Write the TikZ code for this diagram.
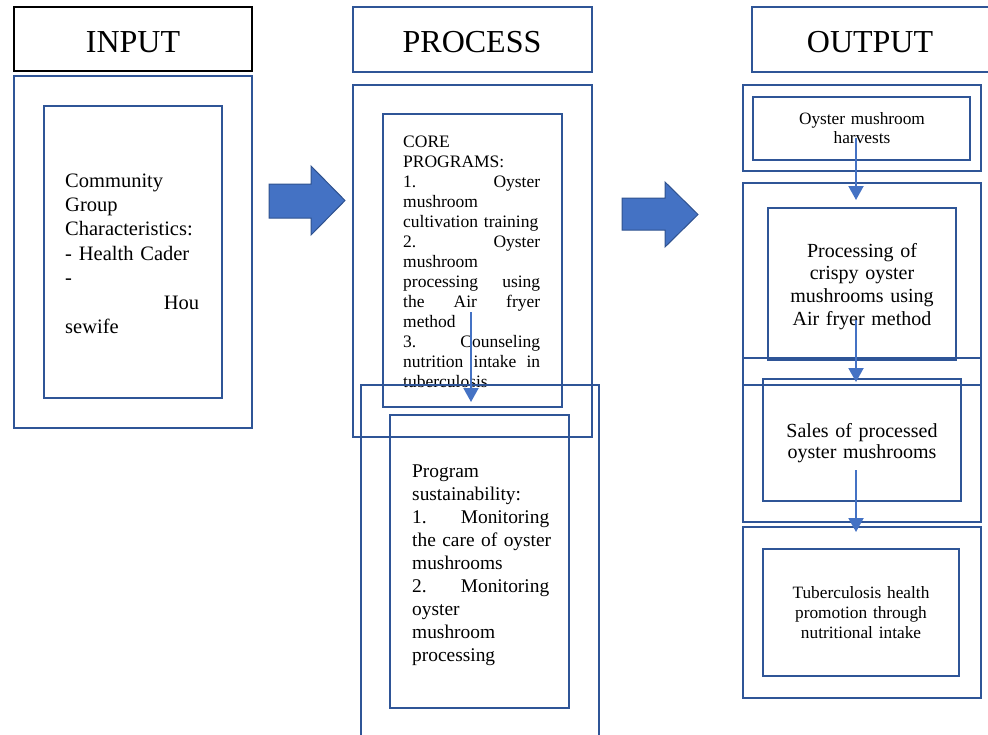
\documentclass[tikz,border=0pt]{standalone}
\usepackage{fontspec}
\setmainfont{Liberation Serif}
\usetikzlibrary{arrows.meta}
\hyphenpenalty=10000
\exhyphenpenalty=10000
\definecolor{boxblue}{HTML}{2F5597}
\definecolor{arrfill}{HTML}{4472C4}
\definecolor{arredge}{HTML}{2F528F}
\tikzset{
  frame/.style={draw=boxblue, line width=2.2pt},
  blackframe/.style={draw=black, line width=2.6pt},
  headtxt/.style={inner sep=0pt, anchor=base, font=\fontsize{32}{38}\selectfont},
  txt/.style={inner sep=0pt, anchor=base west, align=left},
  ctxt/.style={inner sep=0pt, anchor=base, align=center, text width=210pt},
  flow/.style={draw=arrfill, line width=2pt, -{Triangle[width=15pt,length=14pt]}},
  blockarrow/.style={fill=arrfill, draw=arredge, line width=1pt}
}
\begin{document}
\begin{tikzpicture}[x=1pt,y=-1pt]
\useasboundingbox (0,0) rectangle (988,734);
% headers
\draw[blackframe] (14,7) rectangle (252,71);
\draw[frame] (353,7) rectangle (592,72);
\draw[frame] (752,7) rectangle (1000,72);
\node[headtxt] (tin) at (133,52) {INPUT};
\node[headtxt] (tpr) at (472,52) {PROCESS};
\node[headtxt] (tout) at (870,52) {OUTPUT};
% input column
\draw[frame] (14,76) rectangle (252,428);
\draw[frame] (44,106) rectangle (222,398);
\node[txt, text width=134pt, font=\fontsize{20.5}{24.4}\selectfont] (intext) at (65,187)
  {Community\\Group\\Characteristics:\\- Health Cader\\-\\\hspace*{\fill}Hou\\sewife};
% block arrows
\draw[blockarrow] (269,184) -- (311,184) -- (311,166) -- (345,200.5) -- (311,235) -- (311,218) -- (269,218) -- cycle;
\draw[blockarrow] (622,198) -- (665,198) -- (665,182) -- (698,214.5) -- (665,247) -- (665,230) -- (622,230) -- cycle;
% process column
\draw[frame] (353,85) rectangle (592,437);
\draw[frame] (383,114) rectangle (562,407);
\node[txt, text width=137pt, font=\fontsize{17.5}{20}\selectfont] (core) at (403,147)
  {CORE\\PROGRAMS:\\1.\hfill Oyster\\mushroom\\cultivation training\\2.\hfill Oyster\\mushroom\\processing\hfill using\\the\hfill Air\hfill fryer\\method\\3.\hfill Counseling\\nutrition\hfill intake\hfill in\\tuberculosis};
\draw[frame] (361,385) rectangle (599,745);
\draw[frame] (390,415) rectangle (569,708);
\node[txt, text width=137pt, font=\fontsize{19.4}{23.1}\selectfont] (sust) at (412,477)
  {Program\\sustainability:\\1.\hfill Monitoring\\\mbox{the care of oyster}\\mushrooms\\2.\hfill Monitoring\\oyster\\mushroom\\processing};
\coordinate (cs) at (471,312);
\coordinate (ce) at (471,402);
\draw[flow] (cs) -- (ce);
% output column
\draw[frame] (743,85) rectangle (981,171);
\draw[frame] (753,97) rectangle (970,160);
\node[ctxt, font=\fontsize{17.3}{19.5}\selectfont] (harv) at (862,124) {Oyster mushroom\\harvests};
\draw[frame] (743,183) rectangle (981,385);
\draw[frame] (768,208) rectangle (956,360);
\node[ctxt, font=\fontsize{20}{22.7}\selectfont] (proc) at (862,257) {Processing of\\crispy oyster\\mushrooms using\\Air fryer method};
\draw[frame] (743,358) rectangle (981,522);
\draw[frame] (763,379) rectangle (961,501);
\node[ctxt, font=\fontsize{20}{21.5}\selectfont] (sales) at (862,437) {Sales of processed\\oyster mushrooms};
\draw[frame] (743,527) rectangle (981,698);
\draw[frame] (763,549) rectangle (959,676);
\node[ctxt, font=\fontsize{17.3}{20}\selectfont] (tb) at (861,598) {Tuberculosis health\\promotion through\\nutritional intake};
\coordinate (h1) at (856,138);
\coordinate (h2) at (856,200);
\coordinate (p1) at (856,320);
\coordinate (p2) at (856,382);
\coordinate (s1) at (856,470);
\coordinate (s2) at (856,532);
\draw[flow] (h1) -- (h2);
\draw[flow] (p1) -- (p2);
\draw[flow] (s1) -- (s2);
\end{tikzpicture}
\end{document}
